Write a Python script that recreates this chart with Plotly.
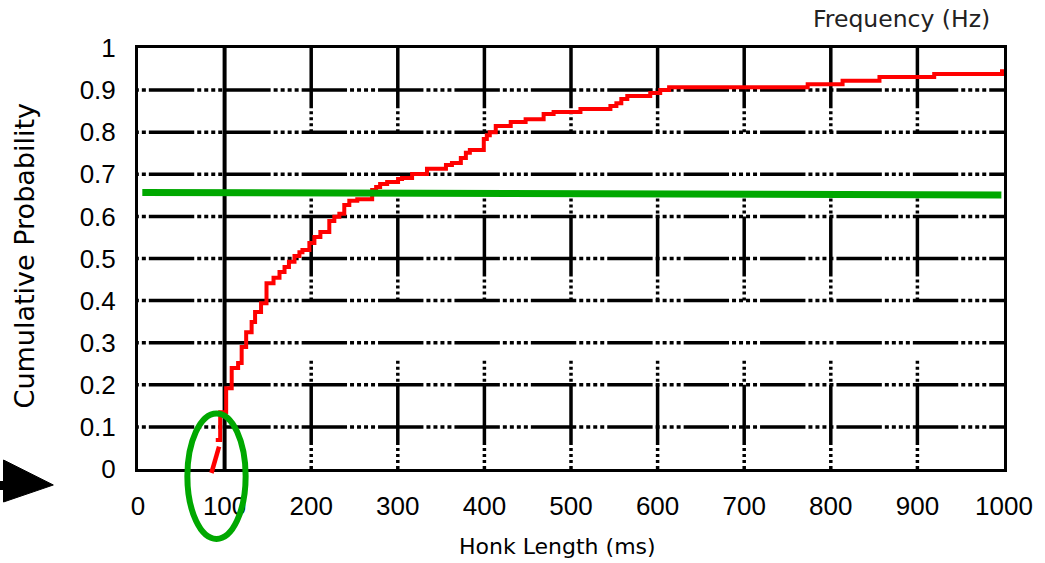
import plotly.graph_objects as go

# Cumulative distribution of honk lengths (step corners: length in ms, cumulative probability)
honk_ms = [89.8, 94.9, 101.8, 108.2, 115.6, 119.7, 124.9, 131.2, 135.2, 142.1,
           148.4, 156.5, 163.4, 169.2, 174.3, 180.7, 186.4, 189.9, 197.9, 203.7,
           210.6, 220.9, 226.7, 232.5, 238.2, 244.0, 253.2, 270.4, 275.0, 279.6,
           287.7, 300.3, 304.9, 316.5, 333.7, 355.6, 362.5, 372.8, 378.6, 383.2,
           399.3, 402.8, 406.2, 413.1, 430.4, 447.6, 468.4, 479.9, 510.9, 545.5,
           552.4, 558.1, 565.0, 591.5, 603.0, 613.3, 773.3, 813.6, 856.2, 919.4,
           997.7, 1000.0]
cum_prob = [0.069, 0.135, 0.192, 0.240, 0.252, 0.290, 0.325, 0.349, 0.373, 0.394,
            0.441, 0.454, 0.468, 0.480, 0.492, 0.506, 0.515, 0.520, 0.537, 0.551,
            0.563, 0.589, 0.599, 0.606, 0.627, 0.637, 0.641, 0.663, 0.670, 0.677,
            0.682, 0.689, 0.691, 0.701, 0.713, 0.722, 0.727, 0.739, 0.751, 0.758,
            0.784, 0.793, 0.800, 0.815, 0.824, 0.831, 0.843, 0.848, 0.855, 0.862,
            0.869, 0.879, 0.886, 0.893, 0.900, 0.907, 0.914, 0.922, 0.931, 0.938,
            0.945, 0.945]

# short tail segment below the first step
tail_ms = [84.8, 93.6]
tail_prob = [-0.0095, 0.053]

# reference level line
level_ms = [5, 997]
level_prob = [0.657, 0.651]

x_ticks = [0, 100, 200, 300, 400, 500, 600, 700, 800, 900, 1000]
y_ticks = [0, 0.1, 0.2, 0.3, 0.4, 0.5, 0.6, 0.7, 0.8, 0.9, 1]
y_tick_text = ["0", "0.1", "0.2", "0.3", "0.4", "0.5", "0.6", "0.7", "0.8", "0.9", "1"]

RED = "#ff0000"
GREEN = "#00a800"
BLACK = "#000000"

H_DASH = "45.4px,3px,4px,3px,4px,3px,4px,3px,4px,3px"
V_DASH = "60.2px,3px,3px,3px,3px,3px,3px,3px,3px"
H_START = -75.7

fig = go.Figure()

# horizontal grid lines (solid runs broken by dotted stretches)
for yv in y_ticks[1:-1]:
    fig.add_trace(go.Scatter(x=[H_START, x_ticks[-1]], y=[yv, yv], mode="lines",
                             line=dict(color=BLACK, width=3.5, dash=H_DASH),
                             hoverinfo="skip", showlegend=False))

# vertical grid lines
for xv in x_ticks[1:-1]:
    dash = "solid" if xv == 100 else V_DASH
    width = 4 if xv == 100 else 3.5
    fig.add_trace(go.Scatter(x=[xv, xv], y=[y_ticks[-1], y_ticks[0]], mode="lines",
                             line=dict(color=BLACK, width=width, dash=dash),
                             hoverinfo="skip", showlegend=False))

# empirical cumulative distribution
fig.add_trace(go.Scatter(x=honk_ms, y=cum_prob, mode="lines",
                         line=dict(color=RED, width=4, shape="hv"),
                         showlegend=False))

# reference level
fig.add_trace(go.Scatter(x=level_ms, y=level_prob, mode="lines",
                         line=dict(color=GREEN, width=7),
                         showlegend=False))

shapes = [
    dict(type="line", xref="x", yref="paper",
         x0=tail_ms[0], y0=tail_prob[0], x1=tail_ms[1], y1=tail_prob[1],
         line=dict(color=RED, width=4.5), layer="above"),
    dict(type="circle", xref="x", yref="paper",
         x0=57, x1=124.3, y0=-0.166, y1=0.132,
         line=dict(color=GREEN, width=6), layer="above"),
    dict(type="path", xref="paper", yref="paper",
         path="M -0.1553 0.0214 L -0.0978 -0.0380 L -0.1553 -0.0784 Z",
         fillcolor=BLACK, line=dict(color=BLACK, width=1), layer="above"),
    dict(type="rect", xref="paper", yref="paper",
         x0=-0.1600, x1=-0.1540, y0=-0.0285, y1=-0.0499,
         fillcolor=BLACK, line=dict(width=0), layer="above"),
]

annotations = [
    dict(text="Frequency (Hz)", xref="paper", yref="paper", x=0.986, y=1.069,
         xanchor="right", yanchor="middle", showarrow=False,
         font=dict(family="DejaVu Sans", size=23.5, color="#222222")),
    dict(text="Honk Length (ms)", xref="paper", yref="paper", x=0.4845, y=-0.185,
         xanchor="center", yanchor="middle", showarrow=False,
         font=dict(family="DejaVu Sans", size=22, color=BLACK)),
    dict(text="Cumulative Probability", xref="paper", yref="paper", x=-0.130, y=0.506,
         xanchor="center", yanchor="middle", showarrow=False, textangle=-90,
         font=dict(family="DejaVu Sans", size=27, color=BLACK)),
]

fig.update_layout(
    width=1045, height=563,
    margin=dict(l=138, r=38, t=48, b=94),
    paper_bgcolor="white", plot_bgcolor="white",
    shapes=shapes, annotations=annotations,
    showlegend=False,
    xaxis=dict(range=[0, 1000], tickvals=x_ticks, ticktext=[str(v) for v in x_ticks],
               showgrid=False, zeroline=False,
               showline=True, mirror=True, linecolor=BLACK, linewidth=3,
               ticks="outside", ticklen=12, tickcolor="rgba(0,0,0,0)",
               tickfont=dict(family="Liberation Sans", size=26, color=BLACK)),
    yaxis=dict(range=[0, 1], tickvals=y_ticks, ticktext=y_tick_text,
               showgrid=False, zeroline=False,
               showline=True, mirror=True, linecolor=BLACK, linewidth=3,
               ticks="outside", ticklen=14, tickcolor="rgba(0,0,0,0)",
               tickfont=dict(family="Liberation Sans", size=26, color=BLACK)),
)

fig.write_html("out.html")
